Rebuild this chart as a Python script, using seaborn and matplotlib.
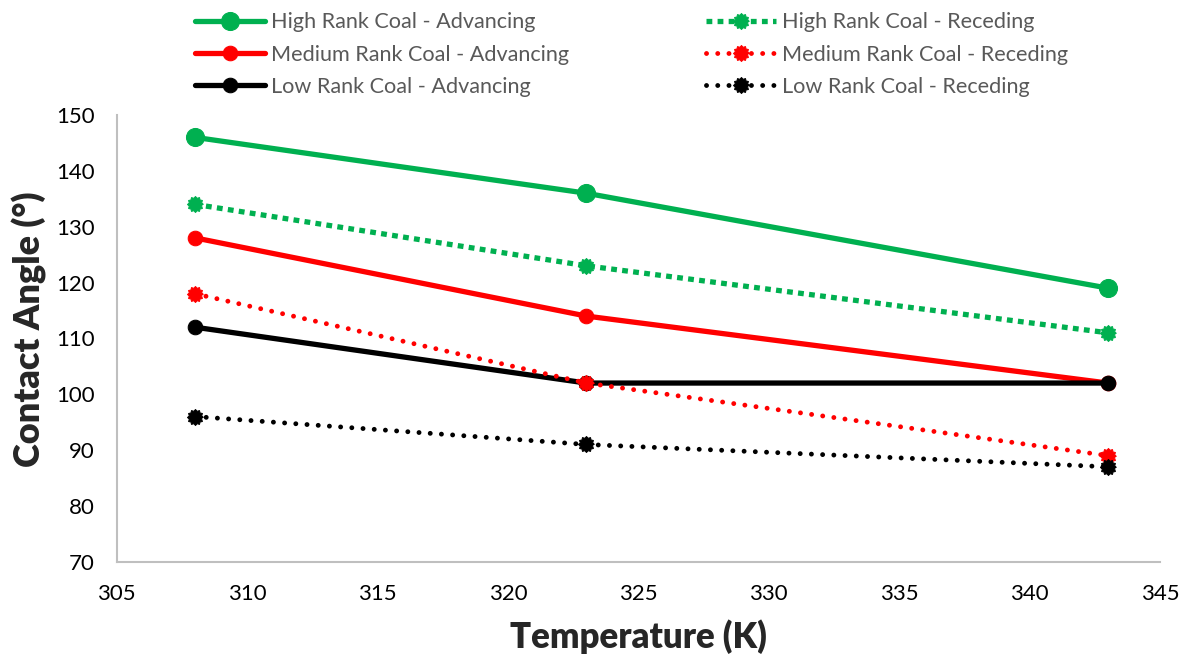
import matplotlib
matplotlib.use("Agg")
import matplotlib.pyplot as plt
import seaborn as sns
import pandas as pd
import numpy as np

temperature = [308, 323, 343]
high_adv = [146, 136, 119]
high_rec = [134, 123, 111]
med_adv = [128, 114, 102]
med_rec = [118, 102, 89]
low_adv = [112, 102, 102]
low_rec = [96, 91, 87]

labels_adv = ["High Rank Coal - Advancing", "Medium Rank Coal - Advancing", "Low Rank Coal - Advancing"]
labels_rec = ["High Rank Coal - Receding", "Medium Rank Coal - Receding", "Low Rank Coal - Receding"]

sns.set_theme(style="white")
plt.rcParams['font.family'] = ['Lato', 'DejaVu Sans']

GREEN = "#00B050"
RED = "#FF0000"
BLACK = "#000000"

# gear-like marker shape for receding series
_n = 24
_ang = np.linspace(0, 2 * np.pi, _n, endpoint=False)
_r = np.where(np.arange(_n) % 2 == 0, 1.0, 0.8)
GEAR = list(zip(_r * np.cos(_ang), _r * np.sin(_ang)))

fig = plt.figure(figsize=(11.84, 6.55), dpi=100)
ax = fig.add_axes([0.0986, 0.1424, 0.9797 - 0.0986, 0.8244 - 0.1424])

adv_series = [(high_adv, GREEN, 13), (med_adv, RED, 10.5), (low_adv, BLACK, 10.5)]
rec_series = [(high_rec, GREEN, (0, (1.1, 1.0)), 'butt', 3.8),
              (med_rec, RED, (0, (0.01, 2.3)), 'round', 3.5),
              (low_rec, BLACK, (0, (0.01, 2.3)), 'round', 3.5)]

adv_handles = []
for (vals, c, ms), lab in zip(adv_series, labels_adv):
    df = pd.DataFrame({"T": temperature, "A": vals})
    sns.lineplot(data=df, x="T", y="A", ax=ax, color=c, linewidth=3.8,
                 marker="o", markersize=ms, markeredgecolor=c, label=lab, legend=False)
    adv_handles.append(ax.lines[-1])

rec_handles = []
for (vals, c, ls, cap, lw), lab in zip(rec_series, labels_rec):
    df = pd.DataFrame({"T": temperature, "A": vals})
    sns.lineplot(data=df, x="T", y="A", ax=ax, color=c, linewidth=lw,
                 marker=GEAR, markersize=11.5, markeredgecolor=c, label=lab, legend=False)
    ln = ax.lines[-1]
    ln.set_linestyle(ls)
    ln.set_dash_capstyle(cap)
    rec_handles.append(ln)

ax.set_xlim(305, 345)
ax.set_ylim(70, 150)
ax.set_xticks(range(305, 346, 5))
ax.set_yticks(range(70, 151, 10))
ax.tick_params(axis='both', labelsize=16, colors="#000000", length=0)
ax.tick_params(axis='y', pad=16)
ax.tick_params(axis='x', pad=16)
for side in ["top", "right"]:
    ax.spines[side].set_visible(False)
for side in ["left", "bottom"]:
    ax.spines[side].set_color("#BFBFBF")
    ax.spines[side].set_linewidth(1.5)

ax.set_xlabel("Temperature (K)", fontsize=25, fontweight="heavy")
ax.set_ylabel("Contact Angle (°)", fontsize=26, fontweight="heavy")
ax.xaxis.set_label_coords(0.5, -0.128)
ax.yaxis.set_label_coords(-0.067, 0.52)

common = dict(loc="upper left", frameon=False, fontsize=15.6,
              handlelength=3.2, handletextpad=0.3, labelspacing=0.56,
              labelcolor="#595959", borderaxespad=0, borderpad=0)
leg1 = fig.legend(handles=adv_handles, labels=labels_adv,
                  bbox_to_anchor=(0.165, 0.981), **common)
leg2 = fig.legend(handles=rec_handles, labels=labels_rec,
                  bbox_to_anchor=(0.5965, 0.981), **common)

fig.savefig("out.png", dpi=100)
